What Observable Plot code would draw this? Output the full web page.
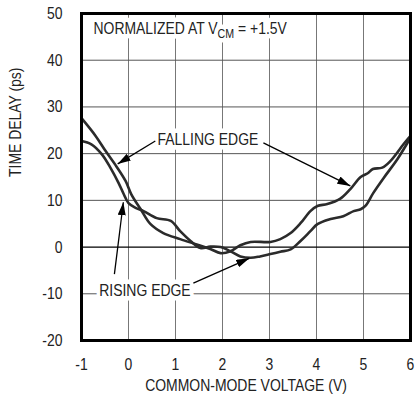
<!DOCTYPE html>
<html>
<head>
<meta charset="utf-8">
<script src="https://cdn.jsdelivr.net/npm/d3@7"></script>
<script src="https://cdn.jsdelivr.net/npm/@observablehq/plot@0.6"></script>
<style>
  html, body { margin: 0; padding: 0; background: #fff; }
  #chart { width: 416px; height: 401px; }
</style>
</head>
<body>
<div id="chart"></div>
<script>
// ---- data ----
const xTicks = [-1, 0, 1, 2, 3, 4, 5, 6];
const yTicks = [-20, -10, 0, 10, 20, 30, 40, 50];
const xGrid = [0, 1, 2, 3, 4, 5];
const yGrid = [-10, 10, 20, 30, 40];

const fallingX = [-1, -0.7, -0.49, -0.26, -0.06, 0.06, 0.26, 0.47, 0.74, 1.1, 1.47, 1.74, 1.96, 2.17, 2.38, 2.6, 3.02, 3.23, 3.45, 3.66, 3.87, 4.02, 4.23, 4.5, 4.72, 4.94, 5.09, 5.2, 5.4, 5.57, 5.85, 6];
const fallingY = [27.6, 23.8, 20.6, 17.3, 14.1, 11.3, 8.1, 4.9, 3.0, 1.7, 0.5, -0.4, -1.3, -0.9, 0.4, 1.1, 1.1, 1.7, 3.0, 5.1, 7.7, 8.8, 9.2, 10.3, 12.4, 15.0, 15.8, 16.7, 17.0, 18.4, 22.0, 23.8];

const risingX = [-1, -0.79, -0.57, -0.38, -0.21, -0.1, 0, 0.15, 0.32, 0.6, 0.9, 1.1, 1.32, 1.53, 1.74, 1.96, 2.17, 2.38, 2.6, 2.8, 3.02, 3.23, 3.45, 3.66, 3.87, 4.02, 4.3, 4.57, 4.79, 4.94, 5.04, 5.21, 5.43, 5.72, 6];
const risingY = [22.7, 22.0, 19.9, 16.9, 13.7, 11.3, 9.4, 8.4, 7.7, 6.2, 5.6, 3.4, 1.3, -0.2, 0.1, 0.0, -0.9, -2.0, -2.3, -2.0, -1.5, -1.0, -0.5, 1.3, 3.4, 4.9, 6.0, 6.6, 7.7, 8.1, 8.8, 11.6, 14.8, 18.8, 23.4];

const labelText = ["FALLING EDGE", "RISING EDGE"];
const labelX = [1.69, 0.35];
const labelY = [23.1, -9.3];

const arrowX1 = [0.57, 2.87, -0.3, 1.38];
const arrowY1 = [22.7, 22.3, -5.8, -7.7];
const arrowX2 = [-0.23, 4.72, -0.11, 2.57];
const arrowY2 = [17.8, 13.1, 9.6, -2.4];

const noteText = "NORMALIZED AT VCM = +1.5V";
const noteX = -0.745, noteY = 46.7;

const xLabel = "COMMON-MODE VOLTAGE (V)";
const yLabel = "TIME DELAY (ps)";

// ---- build tables ----
const falling = fallingX.map((x, i) => ({x, y: fallingY[i]}));
const rising = risingX.map((x, i) => ({x, y: risingY[i]}));
const labels = labelText.map((t, i) => ({t, x: labelX[i], y: labelY[i]}));
const arrows = arrowX1.map((x1, i) => ({x1, y1: arrowY1[i], x2: arrowX2[i], y2: arrowY2[i]}));

const FONT = "'Liberation Sans', Arial, sans-serif";
const ink = "#2b2b2b";
const ARROW = "#010101";
const NOTE = "#232323";

const plot = Plot.plot({
  width: 416,
  height: 401,
  marginLeft: 81,
  marginRight: 6,
  marginTop: 13,
  marginBottom: 61,
  style: {fontFamily: FONT, fontSize: "17px", color: "#222", background: "#fff"},
  x: {domain: [-1, 6]},
  y: {domain: [-20, 50]},
  marks: [
    Plot.ruleX(xGrid, {stroke: "#777", strokeWidth: 1}),
    Plot.ruleY(yGrid, {stroke: "#555", strokeWidth: 1}),
    Plot.ruleY([0], {stroke: "#000", strokeWidth: 1.2}),
    Plot.line(falling, {x: "x", y: "y", curve: "catmull-rom", stroke: ink, strokeWidth: 2.6}),
    Plot.line(rising, {x: "x", y: "y", curve: "catmull-rom", stroke: ink, strokeWidth: 2.6}),
    Plot.text(labels, {x: "x", y: "y", text: "t", fill: "#222", stroke: "#fff", strokeWidth: 9, fontSize: 17}),
    Plot.text([noteText], {x: () => noteX, y: () => noteY, text: d => d, textAnchor: "start", fill: NOTE, stroke: "#fff", strokeWidth: 9, fontSize: 17}),
    Plot.link(arrows, {x1: "x1", y1: "y1", x2: "x2", y2: "y2", stroke: ARROW, strokeWidth: 1.3}),
    Plot.frame({stroke: "#000", strokeWidth: 3}),
    Plot.axisX(xTicks, {tickSize: 0, tickPadding: 17, label: null, fontSize: 17, tickFormat: d => String(d)}),
    Plot.axisY(yTicks, {tickSize: 0, tickPadding: 19, label: null, fontSize: 17, tickFormat: d => String(d)}),
    Plot.text([xLabel], {frameAnchor: "bottom", text: d => d, dy: 50, fontSize: 17, fill: "#222"}),
    Plot.text([yLabel], {frameAnchor: "left", text: d => d, rotate: -90, dx: -66, fontSize: 17, fill: "#222"})
  ]
});

const ns = "http://www.w3.org/2000/svg";
const svg = plot.tagName.toLowerCase() === "svg" ? plot : plot.querySelector("svg");

// filled arrow heads
const defs = document.createElementNS(ns, "defs");
const marker = document.createElementNS(ns, "marker");
marker.setAttribute("id", "headfill");
marker.setAttribute("viewBox", "0 0 13 8");
marker.setAttribute("refX", "13");
marker.setAttribute("refY", "4");
marker.setAttribute("markerWidth", "13");
marker.setAttribute("markerHeight", "8");
marker.setAttribute("markerUnits", "userSpaceOnUse");
marker.setAttribute("orient", "auto");
const mp = document.createElementNS(ns, "path");
mp.setAttribute("d", "M0,0L13,4L0,8Z");
mp.setAttribute("fill", "#000");
marker.appendChild(mp);
defs.appendChild(marker);
svg.insertBefore(defs, svg.firstChild);
svg.querySelectorAll('[stroke="' + ARROW + '"]').forEach(el => {
  const targets = el.tagName.toLowerCase() === "g" ? el.querySelectorAll("path, line") : [el];
  targets.forEach(p => p.setAttribute("marker-end", "url(#headfill)"));
});

document.getElementById("chart").appendChild(plot);

// narrow the lettering (condensed type like the reference)
svg.querySelectorAll("text").forEach(t => {
  if (t.textContent === noteText) return;
  const L = t.getComputedTextLength();
  if (L > 0) {
    t.setAttribute("textLength", (L * 0.82).toFixed(2));
    t.setAttribute("lengthAdjust", "spacingAndGlyphs");
  }
});

// subscript in the note, condensed by a horizontal scale about its left edge
svg.querySelectorAll("text").forEach(t => {
  if (t.textContent !== noteText) return;
  t.textContent = "";
  const parts = [["NORMALIZED AT V", 17, 0], ["CM", 13, 4], [" = +1.5V", 17, -4]];
  parts.forEach(([s, fs, dy]) => {
    const sp = document.createElementNS(ns, "tspan");
    sp.textContent = s;
    sp.setAttribute("font-size", fs);
    if (dy) sp.setAttribute("dy", dy);
    t.appendChild(sp);
  });
  const bx = t.getBBox().x;
  const prev = t.getAttribute("transform") || "";
  t.setAttribute("transform", `${prev} translate(${bx},0) scale(0.82,1) translate(${-bx},0)`.trim());
});
</script>
</body>
</html>
